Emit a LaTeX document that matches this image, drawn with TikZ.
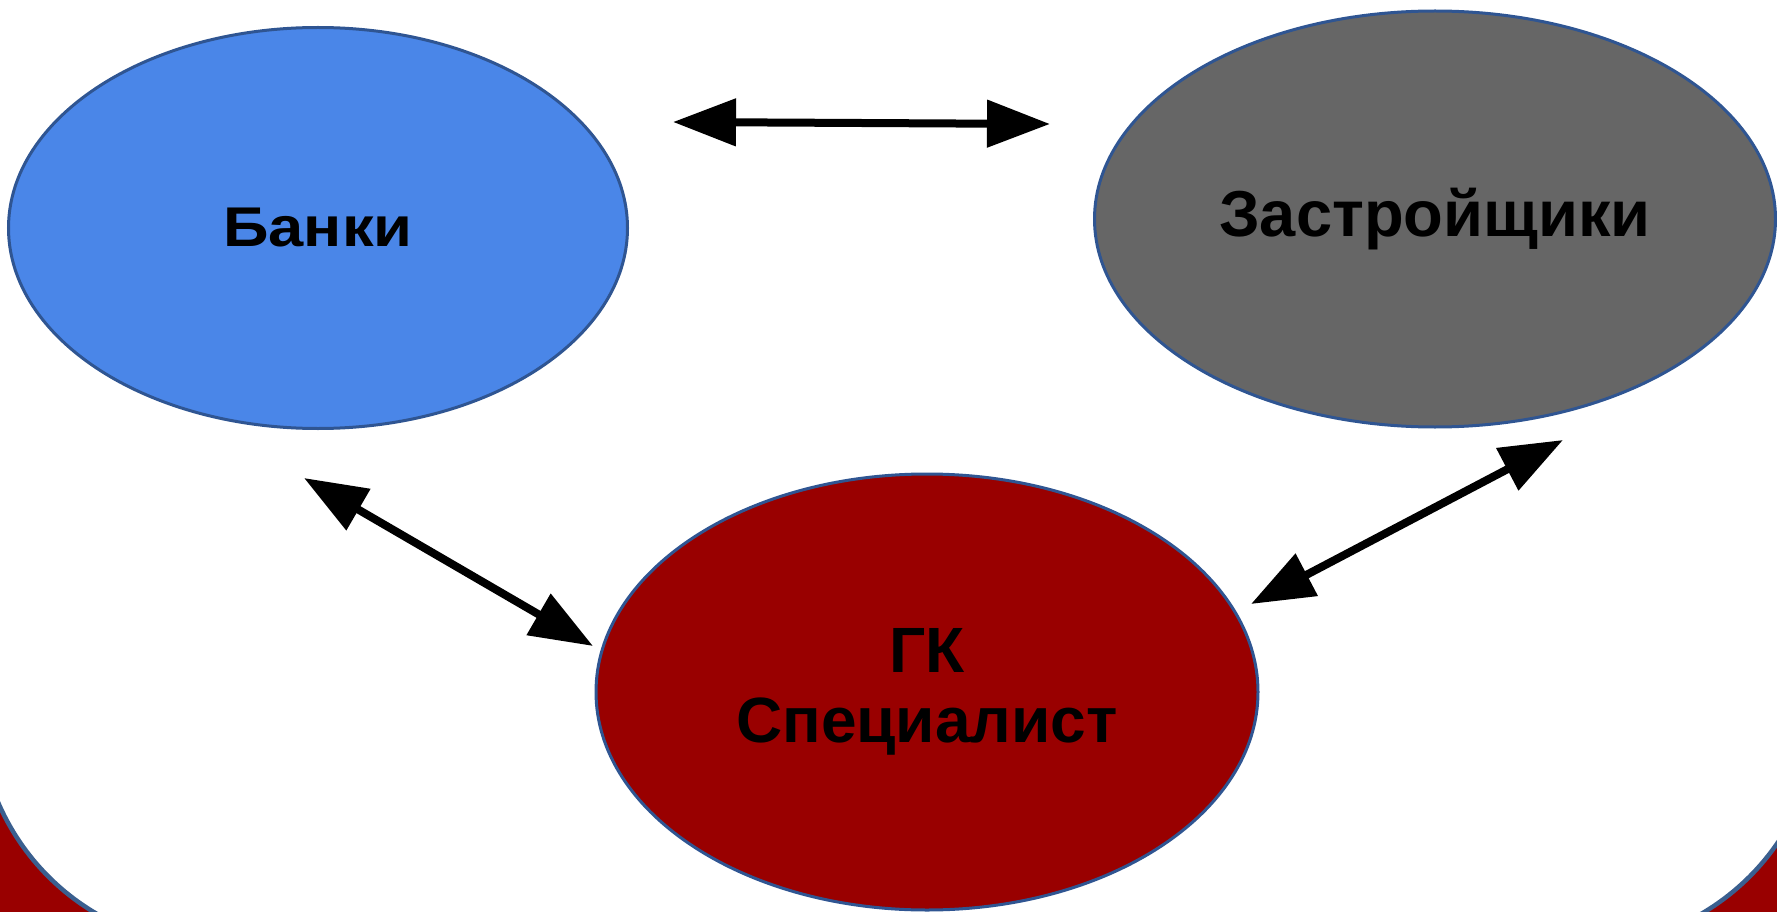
\documentclass[tikz,border=0pt]{standalone}
\usepackage{fontspec}
\setmainfont{Liberation Sans}
\usetikzlibrary{positioning}
\usetikzlibrary{shapes,arrows.meta}

\definecolor{bankblue}{HTML}{4A86E8}
\definecolor{devgray}{HTML}{666666}
\definecolor{gkred}{HTML}{990000}
\definecolor{rimblue}{HTML}{2F5592}
\definecolor{frameblue}{HTML}{3A5F8F}

\tikzset{
  oval/.style={ellipse, draw=rimblue, line width=3pt, inner sep=0pt,
    text=black, font=\bfseries\fontsize{56}{67}\selectfont, align=center},
  link/.style={line width=8pt, {Triangle[length=63pt,width=46pt]}-{Triangle[length=63pt,width=46pt]}}
}

\begin{document}
\begin{tikzpicture}[x=1pt,y=-1pt]
  \useasboundingbox (0,0) rectangle (1777,912);
  \clip (0,0) rectangle (1777,912);
  % background
  \fill[gkred] (0,0) rectangle (1777,912);
  \draw[frameblue, fill=white, line width=4.5pt, rounded corners=237pt]
    (-21,-400) rectangle (1819,946);
  % ovals
  \node(bank) [oval, fill=bankblue, minimum width=619pt, minimum height=401pt] at (318,228)
    {\scalebox{1.13}[1]{Банки}};
  \node(dev) [oval, fill=devgray, minimum width=681pt, minimum height=416pt,
    font=\bfseries\fontsize{65}{78}\selectfont] at (1435,219) {Застройщики};
  \node(gk) [oval, fill=gkred, minimum width=662pt, minimum height=436pt,
    font=\bfseries\fontsize{64}{70}\selectfont] at (927,692) {ГК\\Специалист};
  % arrow ends
  \coordinate(bank-e) at (673,122);
  \coordinate(dev-w) at (1050,124);
  \coordinate(bank-s) at (304,478);
  \coordinate(gk-nw) at (593,646);
  \coordinate(gk-ne) at (1251,604);
  \coordinate(dev-s) at (1563,440);
  \draw[link] (bank-e) -- (dev-w);
  \draw[link] (bank-s) -- (gk-nw);
  \draw[link] (gk-ne) -- (dev-s);
\end{tikzpicture}
\end{document}
